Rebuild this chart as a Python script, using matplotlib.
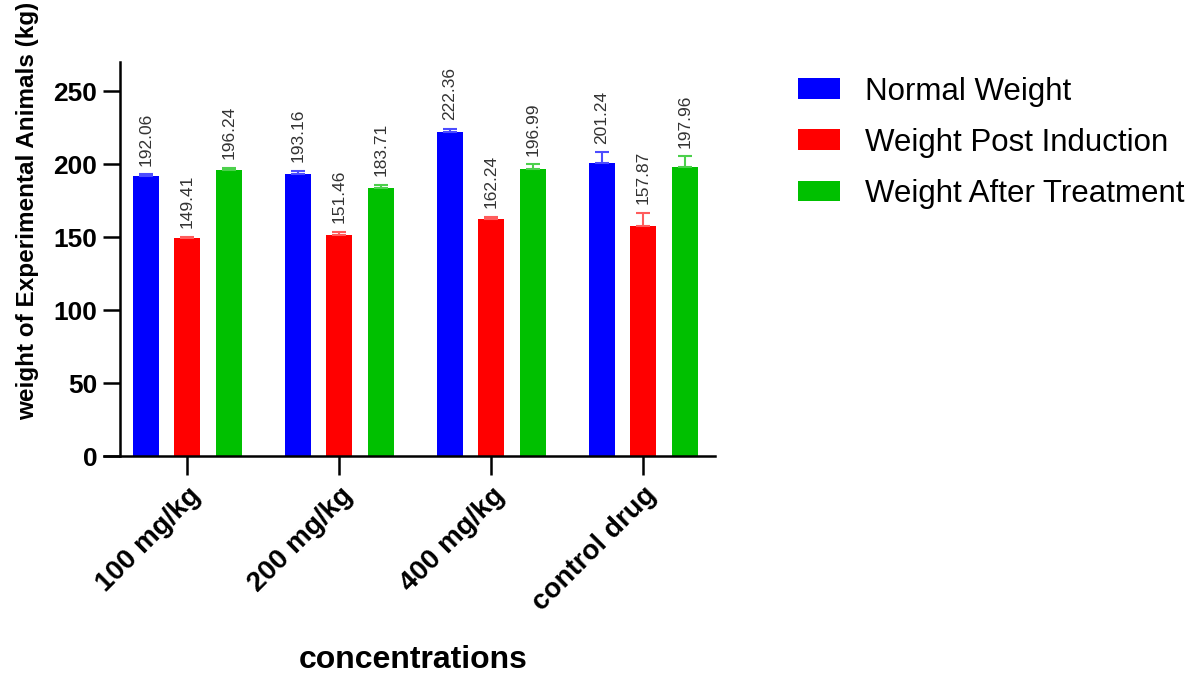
import matplotlib
matplotlib.use('Agg')
import matplotlib.pyplot as plt
import numpy as np

plt.rcParams['font.family'] = ['Liberation Sans', 'DejaVu Sans']

groups = ['100 mg/kg', '200 mg/kg', '400 mg/kg', 'control drug']
series = ['Normal Weight', 'Weight Post Induction', 'Weight After Treatment']
normal = [192.06, 193.16, 222.36, 201.24]
post_induction = [149.41, 151.46, 162.24, 157.87]
after_treatment = [196.24, 183.71, 196.99, 197.96]
normal_err = [1.0, 2.5, 2.0, 7.0]
post_err = [1.0, 2.0, 2.0, 9.0]
after_err = [1.5, 2.0, 3.0, 7.5]

colors = ['#0000ff', '#ff0000', '#00c000']
err_colors = ['#4c4cff', '#ff5c5c', '#4cd04c']

fig = plt.figure(figsize=(11.95, 6.77), dpi=100)
ax = fig.add_axes([0.0867, 0.3264, 0.5113, 0.5816])

x = np.arange(len(groups))
step = 0.273
width = 0.171
handles = []
for i, (vals, errs) in enumerate([(normal, normal_err), (post_induction, post_err), (after_treatment, after_err)]):
    pos = x + (i - 1) * step
    b = ax.bar(pos, vals, width, color=colors[i], label=series[i], zorder=2)
    ax.errorbar(pos, vals, yerr=[np.zeros(len(errs)), errs], fmt='none', ecolor=err_colors[i],
                elinewidth=1.5, capsize=5, capthick=1.5, zorder=3)
    handles.append(b)
    for p, v, e in zip(pos, vals, errs):
        ax.text(p, v + e + 6, f'{v:.2f}', rotation=90, ha='center', va='bottom',
                fontsize=12.5, color='#333333')

ax.set_xlim(-0.55, 3.47)
ax.set_ylim(0, 270)
ax.spines['left'].set_position(('data', -0.445))
ax.spines['left'].set_bounds(0, 270)
ax.spines['top'].set_visible(False)
ax.spines['right'].set_visible(False)
for s in ['left', 'bottom']:
    ax.spines[s].set_linewidth(1.8)

ax.set_yticks([0, 50, 100, 150, 200, 250])
ax.set_xticks(x)
ax.set_xticklabels(groups, rotation=45, ha='right', rotation_mode='anchor', fontweight='bold', fontsize=20)
for lab in ax.get_yticklabels():
    lab.set_fontweight('bold')
    lab.set_fontsize(19)
ax.tick_params(axis='y', length=12, width=1.8, pad=4)
ax.tick_params(axis='x', length=14, width=1.8, pad=5)

ax.set_ylabel('weight of Experimental Animals (kg)', fontweight='bold', fontsize=17.5)
ax.yaxis.set_label_coords(-0.105, 0.622)
fig.text(0.346, 0.003, 'concentrations', ha='center', va='bottom', fontweight='bold', fontsize=23)

fig.legend(handles=handles, labels=series, loc='upper left', bbox_to_anchor=(0.668, 0.887),
           frameon=False, fontsize=22.5, handlelength=1.34, handleheight=0.64, labelspacing=0.68,
           handletextpad=0.8, borderaxespad=0, borderpad=0)

fig.savefig('out.png', dpi=100)
